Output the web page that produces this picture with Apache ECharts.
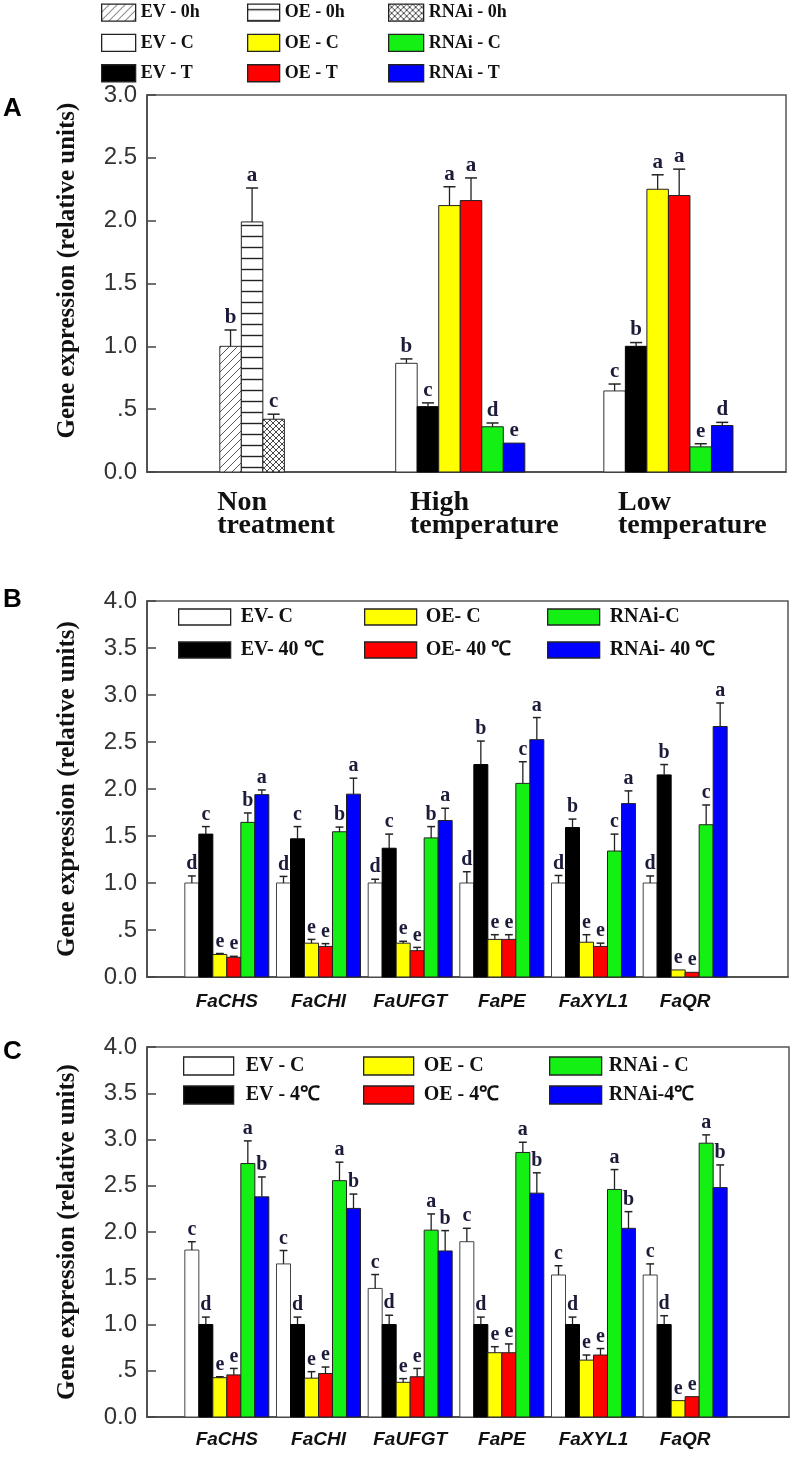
<!DOCTYPE html>
<html><head><meta charset="utf-8">
<script src="https://cdn.jsdelivr.net/npm/echarts@6/dist/echarts.min.js"></script>
<style>html,body{margin:0;padding:0;background:#fff}#c{width:793px;height:1469px}</style>
</head><body><div id="c"></div>
<script>
// ================= DATA =================
// ---- Panel A ----
const catsA = ['Non\ntreatment', 'High\ntemperature', 'Low\ntemperature'];
const yTicksA = [0, 0.5, 1.0, 1.5, 2.0, 2.5, 3.0];
const A_EV0h = [1.00, null, null];    const A_EV0h_err = [0.13, null, null];   const A_EV0h_let = ['b', '', ''];
const A_OE0h = [1.99, null, null];    const A_OE0h_err = [0.27, null, null];   const A_OE0h_let = ['a', '', ''];
const A_RNAi0h = [0.42, null, null];  const A_RNAi0h_err = [0.04, null, null]; const A_RNAi0h_let = ['c', '', ''];
const A_EVC = [null, 0.865, 0.645];   const A_EVC_err = [null, 0.035, 0.055];  const A_EVC_let = ['', 'b', 'c'];
const A_EVT = [null, 0.52, 1.00];     const A_EVT_err = [null, 0.03, 0.03];    const A_EVT_let = ['', 'c', 'b'];
const A_OEC = [null, 2.12, 2.25];     const A_OEC_err = [null, 0.15, 0.115];   const A_OEC_let = ['', 'a', 'a'];
const A_OET = [null, 2.16, 2.20];     const A_OET_err = [null, 0.18, 0.21];    const A_OET_let = ['', 'a', 'a'];
const A_RNAiC = [null, 0.36, 0.20];   const A_RNAiC_err = [null, 0.03, 0.025]; const A_RNAiC_let = ['', 'd', 'e'];
const A_RNAiT = [null, 0.23, 0.37];   const A_RNAiT_err = [null, 0, 0.025];    const A_RNAiT_let = ['', 'e', 'd'];

// ---- Panel B (40 °C) ----
const genes = ['FaCHS', 'FaCHI', 'FaUFGT', 'FaPE', 'FaXYL1', 'FaQR'];
const yTicksBC = [0, 0.5, 1.0, 1.5, 2.0, 2.5, 3.0, 3.5, 4.0];
const B_EVC = [1.00, 1.00, 1.00, 1.00, 1.00, 1.00];       const B_EVC_err = [0.075, 0.07, 0.04, 0.12, 0.08, 0.075];
const B_EV40 = [1.52, 1.47, 1.37, 2.26, 1.59, 2.15];      const B_EV40_err = [0.08, 0.13, 0.15, 0.25, 0.09, 0.11];
const B_OEC = [0.24, 0.36, 0.36, 0.40, 0.37, 0.075];      const B_OEC_err = [0.01, 0.04, 0.02, 0.05, 0.08, 0];
const B_OE40 = [0.21, 0.325, 0.28, 0.40, 0.325, 0.05];    const B_OE40_err = [0.01, 0.03, 0.035, 0.05, 0.035, 0];
const B_RNAiC = [1.645, 1.545, 1.48, 2.06, 1.34, 1.62];   const B_RNAiC_err = [0.10, 0.05, 0.12, 0.23, 0.18, 0.21];
const B_RNAi40 = [1.94, 1.945, 1.665, 2.525, 1.845, 2.665]; const B_RNAi40_err = [0.05, 0.17, 0.13, 0.235, 0.135, 0.25];
const B_EVC_let = ['d', 'd', 'd', 'd', 'd', 'd'];
const B_EV40_let = ['c', 'c', 'c', 'b', 'b', 'b'];
const B_OEC_let = ['e', 'e', 'e', 'e', 'e', 'e'];
const B_OE40_let = ['e', 'e', 'e', 'e', 'e', 'e'];
const B_RNAiC_let = ['b', 'b', 'b', 'c', 'c', 'c'];
const B_RNAi40_let = ['a', 'a', 'a', 'a', 'a', 'a'];

// ---- Panel C (4 °C) ----
const C_EVC = [1.805, 1.655, 1.39, 1.895, 1.535, 1.535];  const C_EVC_err = [0.09, 0.145, 0.15, 0.145, 0.10, 0.12];
const C_EV4 = [1.00, 1.00, 1.00, 1.00, 1.00, 1.00];       const C_EV4_err = [0.08, 0.08, 0.10, 0.08, 0.08, 0.095];
const C_OEC = [0.425, 0.42, 0.375, 0.695, 0.615, 0.177];  const C_OEC_err = [0.01, 0.07, 0.04, 0.065, 0.055, 0];
const C_OE4 = [0.455, 0.47, 0.435, 0.695, 0.67, 0.22];    const C_OE4_err = [0.07, 0.07, 0.09, 0.095, 0.07, 0];
const C_RNAiC = [2.74, 2.555, 2.02, 2.86, 2.46, 2.96];    const C_RNAiC_err = [0.245, 0.20, 0.175, 0.11, 0.215, 0.09];
const C_RNAi4 = [2.38, 2.255, 1.795, 2.42, 2.04, 2.48];   const C_RNAi4_err = [0.215, 0.155, 0.22, 0.22, 0.18, 0.245];
const C_EVC_let = ['c', 'c', 'c', 'c', 'c', 'c'];
const C_EV4_let = ['d', 'd', 'd', 'd', 'd', 'd'];
const C_OEC_let = ['e', 'e', 'e', 'e', 'e', 'e'];
const C_OE4_let = ['e', 'e', 'e', 'e', 'e', 'e'];
const C_RNAiC_let = ['a', 'a', 'a', 'a', 'a', 'a'];
const C_RNAi4_let = ['b', 'b', 'b', 'b', 'b', 'b'];

// ================= STYLES =================
function hatch(kind) {
  const cv = document.createElement('canvas');
  const ctx = cv.getContext('2d');
  if (kind === 'diag') {
    cv.width = 8; cv.height = 8;
    ctx.fillStyle = '#fff'; ctx.fillRect(0, 0, 8, 8);
    ctx.strokeStyle = '#555'; ctx.lineWidth = 1;
    ctx.beginPath();
    ctx.moveTo(0, 8); ctx.lineTo(8, 0);
    ctx.moveTo(-1, 1); ctx.lineTo(1, -1);
    ctx.moveTo(7, 9); ctx.lineTo(9, 7);
    ctx.stroke();
  } else if (kind === 'horiz') {
    cv.width = 10; cv.height = 11;
    ctx.fillStyle = '#fff'; ctx.fillRect(0, 0, 10, 11);
    ctx.strokeStyle = '#222'; ctx.lineWidth = 1.4;
    ctx.beginPath(); ctx.moveTo(0, 5.5); ctx.lineTo(10, 5.5); ctx.stroke();
  } else {
    cv.width = 6; cv.height = 6;
    ctx.fillStyle = '#fff'; ctx.fillRect(0, 0, 6, 6);
    ctx.strokeStyle = '#333'; ctx.lineWidth = 0.9;
    ctx.beginPath();
    ctx.moveTo(0, 0); ctx.lineTo(6, 6);
    ctx.moveTo(0, 6); ctx.lineTo(6, 0);
    ctx.stroke();
  }
  return { image: cv, repeat: 'repeat' };
}
const WHITE = '#ffffff', BLACK = '#000000', YELLOW = '#ffff00', RED = '#ff0000', GREEN = '#14f014', BLUE = '#0000ff';
const SERIF = '"Liberation Serif", "Times New Roman", serif';
const SANS = '"Liberation Sans", Arial, sans-serif';
const LETTER_COLOR = '#1c1c3a';

// series definitions (order = order of bars inside a group)
const panelA = [
  { name: 'EV - 0h',   v: A_EV0h,   e: A_EV0h_err,   l: A_EV0h_let,   fill: hatch('diag'),  stroke: '#333' },
  { name: 'OE - 0h',   v: A_OE0h,   e: A_OE0h_err,   l: A_OE0h_let,   fill: hatch('horiz'), stroke: '#222' },
  { name: 'RNAi - 0h', v: A_RNAi0h, e: A_RNAi0h_err, l: A_RNAi0h_let, fill: hatch('cross'), stroke: '#222' },
  { name: 'EV - C',    v: A_EVC,    e: A_EVC_err,    l: A_EVC_let,    fill: WHITE,  stroke: '#333' },
  { name: 'EV - T',    v: A_EVT,    e: A_EVT_err,    l: A_EVT_let,    fill: BLACK,  stroke: '#000' },
  { name: 'OE - C',    v: A_OEC,    e: A_OEC_err,    l: A_OEC_let,    fill: YELLOW, stroke: '#222' },
  { name: 'OE - T',    v: A_OET,    e: A_OET_err,    l: A_OET_let,    fill: RED,    stroke: '#222' },
  { name: 'RNAi - C',  v: A_RNAiC,  e: A_RNAiC_err,  l: A_RNAiC_let,  fill: GREEN,  stroke: '#222' },
  { name: 'RNAi - T',  v: A_RNAiT,  e: A_RNAiT_err,  l: A_RNAiT_let,  fill: BLUE,   stroke: '#222' }
];
const panelB = [
  { name: 'EV- C',       v: B_EVC,    e: B_EVC_err,    l: B_EVC_let,    fill: WHITE,  stroke: '#444' },
  { name: 'EV- 40 ℃',    v: B_EV40,   e: B_EV40_err,   l: B_EV40_let,   fill: BLACK,  stroke: '#000' },
  { name: 'OE- C',       v: B_OEC,    e: B_OEC_err,    l: B_OEC_let,    fill: YELLOW, stroke: '#222' },
  { name: 'OE- 40 ℃',    v: B_OE40,   e: B_OE40_err,   l: B_OE40_let,   fill: RED,    stroke: '#222' },
  { name: 'RNAi-C',      v: B_RNAiC,  e: B_RNAiC_err,  l: B_RNAiC_let,  fill: GREEN,  stroke: '#222' },
  { name: 'RNAi- 40 ℃',  v: B_RNAi40, e: B_RNAi40_err, l: B_RNAi40_let, fill: BLUE,   stroke: '#222' }
];
const panelC = [
  { name: 'EV - C ',     v: C_EVC,    e: C_EVC_err,    l: C_EVC_let,    fill: WHITE,  stroke: '#444' },
  { name: 'EV - 4℃',     v: C_EV4,    e: C_EV4_err,    l: C_EV4_let,    fill: BLACK,  stroke: '#000' },
  { name: 'OE - C ',     v: C_OEC,    e: C_OEC_err,    l: C_OEC_let,    fill: YELLOW, stroke: '#222' },
  { name: 'OE - 4℃',     v: C_OE4,    e: C_OE4_err,    l: C_OE4_let,    fill: RED,    stroke: '#222' },
  { name: 'RNAi - C ',   v: C_RNAiC,  e: C_RNAiC_err,  l: C_RNAiC_let,  fill: GREEN,  stroke: '#222' },
  { name: 'RNAi-4℃',     v: C_RNAi4,  e: C_RNAi4_err,  l: C_RNAi4_let,  fill: BLUE,   stroke: '#222' }
];

// ================= BUILD =================
function buildSeries(defs, nCats, axisIdx, ratio, letterSize) {
  const present = [];
  for (let c = 0; c < nCats; c++) {
    present.push(defs.map((d, k) => (d.v[c] != null ? k : -1)).filter(k => k >= 0));
  }
  return defs.map((d, k) => {
    const data = [], slot = [], cnt = [], errs = [], lets = [];
    for (let c = 0; c < nCats; c++) {
      if (d.v[c] == null) continue;
      data.push([c, d.v[c]]);
      slot.push(present[c].indexOf(k));
      cnt.push(present[c].length);
      errs.push(d.e[c] || 0);
      lets.push(d.l[c] || '');
    }
    return {
      type: 'custom', name: d.name,
      xAxisIndex: axisIdx, yAxisIndex: axisIdx,
      itemStyle: { color: d.fill, borderColor: d.stroke, borderWidth: 1 },
      data: data,
      z: 3,
      renderItem: function (params, api) {
        const i = params.dataIndex;
        const c = api.value(0), v = api.value(1);
        const band = api.size([1, 0])[0];
        const w = band * ratio;
        const base = api.coord([c, 0]);
        const top = api.coord([c, v]);
        const x0 = base[0] + (slot[i] - cnt[i] / 2) * w;
        const cx = x0 + w / 2;
        const children = [{
          type: 'rect',
          shape: { x: x0, y: top[1], width: w, height: base[1] - top[1] },
          style: { fill: d.fill, stroke: d.stroke, lineWidth: 1 }
        }];
        let yTop = top[1];
        if (errs[i] > 0) {
          const et = api.coord([c, v + errs[i]])[1];
          const hw = w * 0.28;
          children.push({ type: 'line', shape: { x1: cx, y1: top[1], x2: cx, y2: et }, style: { stroke: '#222', lineWidth: 1.3 } });
          children.push({ type: 'line', shape: { x1: cx - hw, y1: et, x2: cx + hw, y2: et }, style: { stroke: '#222', lineWidth: 1.5 } });
          yTop = et;
        }
        if (lets[i]) {
          children.push({
            type: 'text', z2: 10,
            style: {
              text: lets[i], x: cx, y: yTop - 2, align: 'center', verticalAlign: 'bottom',
              fill: LETTER_COLOR, fontFamily: SERIF, fontWeight: 'bold', fontSize: letterSize
            }
          });
        }
        return { type: 'group', children: children };
      }
    };
  });
}

function frameY(gridIndex, max, name, namePad) {
  return {
    type: 'value', gridIndex: gridIndex, min: 0, max: max, interval: 0.5,
    name: name, nameLocation: 'middle', nameGap: 67,
    nameTextStyle: { fontFamily: SERIF, fontWeight: 'bold', fontSize: 25, color: '#111', padding: namePad },
    axisLine: { show: true, lineStyle: { color: '#444', width: 1.5 } },
    axisTick: { show: true, inside: true, length: 9, lineStyle: { color: '#444', width: 1.5 } },
    splitLine: { show: false },
    axisLabel: {
      margin: 10, fontFamily: SANS, fontSize: 24, color: '#333',
      formatter: v => (v === 0.5 ? '.5' : v.toFixed(1))
    }
  };
}
function frameX(gridIndex) {
  return {
    type: 'value', gridIndex: gridIndex, min: 0, max: 1,
    axisLine: { show: true, lineStyle: { color: '#444', width: 1.5 } },
    axisTick: { show: false }, axisLabel: { show: false }, splitLine: { show: false }
  };
}
function dataY(gridIndex, max) {
  return { type: 'value', gridIndex: gridIndex, min: 0, max: max, show: false };
}

function legendCol(names, left, top, iw, ih, gap, fs, textPad) {
  return {
    data: names, left: left, top: top, orient: 'vertical', icon: 'rect',
    itemWidth: iw, itemHeight: ih, itemGap: gap, selectedMode: false, padding: 0,
    itemStyle: { borderColor: '#222', borderWidth: 1.3 },
    formatter: n => '{t|' + n + '}',
    textStyle: {
      rich: { t: { fontFamily: SERIF, fontWeight: 'bold', fontSize: fs, lineHeight: fs, color: '#111', padding: [0, 0, 0, textPad] } }
    }
  };
}

const frameGrid = { show: true, borderColor: '#555', borderWidth: 1.5, backgroundColor: 'transparent' };
const yName = 'Gene expression (relative units)';

const option = {
  animation: false,
  backgroundColor: '#fff',
  title: [
    { text: 'A', left: 3, top: 96, padding: 0, textStyle: { fontFamily: SANS, fontWeight: 'bold', fontSize: 26, color: '#000' } },
    { text: 'B', left: 3, top: 587, padding: 0, textStyle: { fontFamily: SANS, fontWeight: 'bold', fontSize: 26, color: '#000' } },
    { text: 'C', left: 3, top: 1039, padding: 0, textStyle: { fontFamily: SANS, fontWeight: 'bold', fontSize: 26, color: '#000' } }
  ],
  legend: [
    legendCol(['EV - 0h', 'EV - C', 'EV - T'], 101, 3.5, 34, 17, 12, 18, 0),
    legendCol(['OE - 0h', 'OE - C', 'OE - T'], 247, 3.5, 32, 17, 12, 18, 0),
    legendCol(['RNAi - 0h', 'RNAi - C', 'RNAi - T'], 388, 3.5, 35, 17, 12, 18, 0),
    legendCol(['EV- C', 'EV- 40 ℃'], 178, 607, 52, 16, 13, 20, 5),
    legendCol(['OE- C', 'OE- 40 ℃'], 364, 607, 52, 16, 13, 20, 4),
    legendCol(['RNAi-C', 'RNAi- 40 ℃'], 547, 607, 52, 16, 13, 20, 5),
    legendCol(['EV - C ', 'EV - 4℃'], 183, 1056, 50, 18, 9, 20, 7),
    legendCol(['OE - C ', 'OE - 4℃'], 363, 1056, 50, 18, 9, 20, 5),
    legendCol(['RNAi - C ', 'RNAi-4℃'], 549, 1056, 52, 18, 9, 20, 2)
  ],
  grid: [
    Object.assign({ left: 147, width: 639, top: 95, height: 377 }, frameGrid),
    { left: 148, width: 624.5, top: 95, height: 377 },
    Object.assign({ left: 147, width: 641, top: 601, height: 376 }, frameGrid),
    { left: 181, width: 550, top: 601, height: 376 },
    Object.assign({ left: 147, width: 642, top: 1047, height: 370 }, frameGrid),
    { left: 181, width: 550, top: 1047, height: 370 }
  ],
  xAxis: [
    frameX(0),
    {
      type: 'category', gridIndex: 1, data: catsA,
      axisLine: { show: false }, axisTick: { show: false },
      axisLabel: {
        interval: 0, margin: 19, align: 'center', padding: [0, 0, 0, 48],
        formatter: v => v.split('\n').map(s => '{l|' + s + '}').join('\n'),
        rich: { l: { align: 'left', fontFamily: SERIF, fontWeight: 'bold', fontSize: 28, lineHeight: 23, color: '#111' } }
      }
    },
    frameX(2),
    {
      type: 'category', gridIndex: 3, data: genes,
      axisLine: { show: false }, axisTick: { show: false },
      axisLabel: { interval: 0, margin: 15, fontFamily: SANS, fontStyle: 'italic', fontWeight: 'bold', fontSize: 19, color: '#111' }
    },
    frameX(4),
    {
      type: 'category', gridIndex: 5, data: genes,
      axisLine: { show: false }, axisTick: { show: false },
      axisLabel: { interval: 0, margin: 13, fontFamily: SANS, fontStyle: 'italic', fontWeight: 'bold', fontSize: 19, color: '#111' }
    }
  ],
  yAxis: [
    frameY(0, 3, yName, [0, 0, 0, 26]), dataY(1, 3),
    frameY(2, 4, yName, 0), dataY(3, 4),
    frameY(4, 4, yName, 0), dataY(5, 4)
  ],
  series: [].concat(
    buildSeries(panelA, catsA.length, 1, 0.1034, 21),
    buildSeries(panelB, genes.length, 3, 0.1527, 20),
    buildSeries(panelC, genes.length, 5, 0.1527, 20)
  )
};

const chart = echarts.init(document.getElementById('c'), null, { renderer: 'canvas', width: 793, height: 1469 });
chart.setOption(option);
</script>
</body></html>
